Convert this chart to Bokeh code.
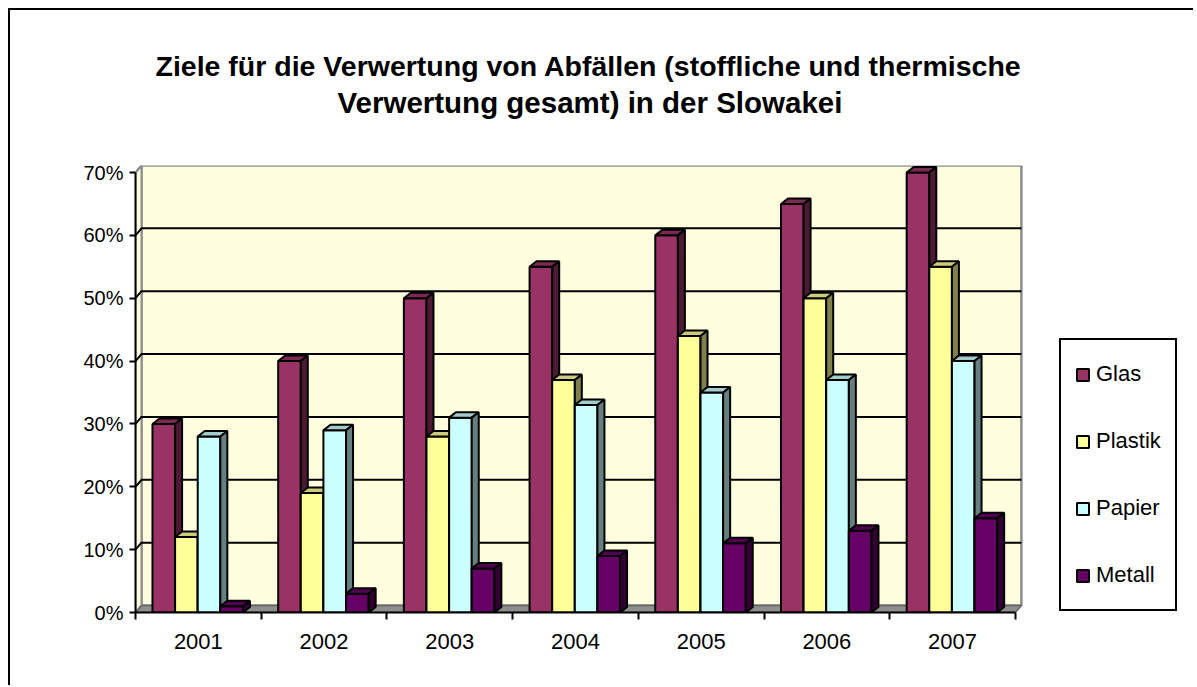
from bokeh.plotting import figure
from bokeh.models import (Range1d, FixedTicker, PrintfTickFormatter, Legend, LegendItem, Title)
from bokeh.embed import file_html
from bokeh.resources import INLINE

# ---- data ----
years = ["2001", "2002", "2003", "2004", "2005", "2006", "2007"]
series_names = ["Glas", "Plastik", "Papier", "Metall"]
glas = [30, 40, 50, 55, 60, 65, 70]
plastik = [12, 19, 28, 37, 44, 50, 55]
papier = [28, 29, 31, 33, 35, 37, 40]
metall = [1, 3, 7, 9, 11, 13, 15]
y_ticks = [0, 10, 20, 30, 40, 50, 60, 70]
title_line1 = "Ziele für die Verwertung von Abfällen (stoffliche und thermische"
title_line2 = "Verwertung gesamt) in der Slowakei"

front_colors = ["#993366", "#FFFF99", "#CCFFFF", "#660066"]
top_colors = ["#7A2952", "#CCCC7A", "#A3CCCC", "#520052"]
side_colors = ["#4D1A33", "#80804D", "#668080", "#330033"]

# ---- geometry (pixel-derived layout constants) ----
W, H = 1185, 677
ML, MT, MR, MB = 125, 155, 10, 75
frame_w = W - ML - MR
frame_h = H - MT - MB
cat_px = 125.7
px_per_pct = 6.2857
ncat = len(years)
x_end = frame_w / cat_px
y_end = frame_h / px_per_pct

wall_dx = 6.0 / cat_px
wall_dy = 7.0 / px_per_pct
bar_dx = 7.0 / cat_px
bar_dy = 5.5 / px_per_pct
bar_off = 0.135
bar_w = 0.18

p = figure(width=W, height=H, x_range=Range1d(0, x_end), y_range=Range1d(0, y_end),
           output_backend="svg", toolbar_location=None,
           min_border_left=ML, min_border_top=MT, min_border_right=MR, min_border_bottom=MB)
p.styles = {"border-left": "2px solid black", "border-top": "2px solid black",
            "margin-left": "8px", "margin-top": "8px"}
p.background_fill_color = "white"
p.border_fill_color = "white"
p.outline_line_color = None
p.xgrid.visible = False
p.ygrid.visible = False

ymax = y_ticks[-1]
# back wall
p.patch([wall_dx, ncat + wall_dx, ncat + wall_dx, wall_dx],
        [wall_dy, wall_dy, ymax + wall_dy, ymax + wall_dy],
        fill_color="#FFFFE0", line_color="#8C8C8C", line_width=2.5)
# left wall
p.patch([0, wall_dx, wall_dx, 0], [0, wall_dy, ymax + wall_dy, ymax],
        fill_color="#FFFFE0", line_color="#8C8C8C", line_width=2)
# floor
p.patch([0, ncat, ncat + wall_dx, wall_dx], [0, 0, wall_dy, wall_dy],
        fill_color="#8E8E8E", line_color="#666666", line_width=1.5)
# gridlines
gx, gy = [], []
for v in y_ticks[1:-1]:
    gx.append([0, wall_dx, ncat + wall_dx])
    gy.append([v, v + wall_dy, v + wall_dy])
p.multi_line(gx, gy, line_color="black", line_width=2)
p.line([0, wall_dx], [ymax, ymax + wall_dy], line_color="#8C8C8C", line_width=2)

# bars
all_vals = [glas, plastik, papier, metall]
legend_items = []
for k, (name, vals) in enumerate(zip(series_names, all_vals)):
    lefts = [i + bar_off + k * bar_w for i in range(ncat)]
    rights = [l + bar_w for l in lefts]
    fr = p.quad(left=lefts, right=rights, bottom=[0] * ncat, top=vals,
                fill_color=front_colors[k], line_color="black", line_width=2)
    txs, tys, sxs, sys_ = [], [], [], []
    for l, r, v in zip(lefts, rights, vals):
        txs.append([l, r, r + bar_dx, l + bar_dx])
        tys.append([v, v, v + bar_dy, v + bar_dy])
        sxs.append([r, r + bar_dx, r + bar_dx, r])
        sys_.append([0, bar_dy, v + bar_dy, v])
    p.patches(txs, tys, fill_color=top_colors[k], line_color="black", line_width=2)
    p.patches(sxs, sys_, fill_color=side_colors[k], line_color="black", line_width=2)
    legend_items.append(LegendItem(label=name, renderers=[fr]))

# axes
yax = p.yaxis[0]
yax.ticker = FixedTicker(ticks=y_ticks)
yax.formatter = PrintfTickFormatter(format="%d%%")
yax.bounds = (0, ymax)
yax.axis_line_color = "black"
yax.axis_line_width = 2
yax.major_tick_line_color = "black"
yax.major_tick_line_width = 2
yax.major_tick_out = 6
yax.major_tick_in = 0
yax.minor_tick_line_color = None
yax.major_label_standoff = 6
yax.major_label_text_font = "Liberation Sans"
yax.major_label_text_font_size = "20px"
yax.major_label_text_color = "black"

xax = p.xaxis[0]
centers = [i + 0.5 for i in range(ncat)]
xax.ticker = FixedTicker(ticks=centers, minor_ticks=list(range(ncat + 1)))
xax.major_label_overrides = {c: y for c, y in zip(centers, years)}
xax.bounds = (0, ncat)
xax.axis_line_color = "black"
xax.axis_line_width = 2
xax.major_tick_line_color = None
xax.major_tick_out = 7
xax.major_tick_in = 0
xax.minor_tick_line_color = "black"
xax.minor_tick_line_width = 2
xax.minor_tick_out = 7
xax.minor_tick_in = 0
xax.major_label_standoff = 14
xax.major_label_text_font = "Liberation Sans"
xax.major_label_text_font_size = "22px"
xax.major_label_text_color = "black"

# legend (inside the widened frame, right of the walls)
legend = Legend(items=legend_items, location=(924, 1))
legend.label_text_font = "Liberation Sans"
legend.label_text_font_size = "22px"
legend.label_text_color = "black"
legend.glyph_width = 15
legend.glyph_height = 15
legend.label_height = 40
legend.label_standoff = 6
legend.spacing = 27
legend.padding = 14
legend.margin = 0
legend.border_line_color = "black"
legend.border_line_alpha = 1
legend.border_line_width = 2
legend.background_fill_color = "white"
legend.background_fill_alpha = 1
p.add_layout(legend, "center")

# title: spacer + two lines (first added is closest to the frame)
spacer = Title(text=" ", text_font_size="10px", standoff=34)
t2 = Title(text=title_line2, align="left", offset=202, text_font="Liberation Sans",
           text_font_size="29.5px", text_font_style="bold", text_color="black", standoff=0)
t1 = Title(text=title_line1, align="left", offset=20, text_font="Liberation Sans",
           text_font_size="28.5px", text_font_style="bold", text_color="black", standoff=4)
p.add_layout(spacer, "above")
p.add_layout(t2, "above")
p.add_layout(t1, "above")

open("out.html", "w").write(file_html(p, INLINE))
